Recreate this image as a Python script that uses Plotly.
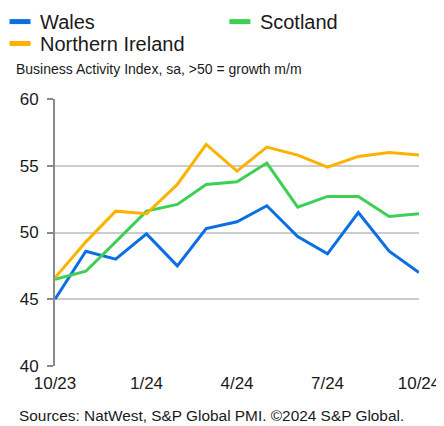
import plotly.graph_objects as go

months = ["2023-10-01", "2023-11-01", "2023-12-01", "2024-01-01", "2024-02-01",
          "2024-03-01", "2024-04-01", "2024-05-01", "2024-06-01", "2024-07-01",
          "2024-08-01", "2024-09-01", "2024-10-01"]
wales = [45.0, 48.6, 48.0, 49.9, 47.5, 50.3, 50.8, 52.0, 49.7, 48.4, 51.5, 48.6, 47.0]
scotland = [46.5, 47.1, 49.3, 51.6, 52.1, 53.6, 53.8, 55.2, 51.9, 52.7, 52.7, 51.2, 51.4]
n_ireland = [46.6, 49.3, 51.6, 51.4, 53.6, 56.6, 54.6, 56.4, 55.8, 54.9, 55.7, 56.0, 55.8]

tick_vals = ["2023-10-01", "2024-01-01", "2024-04-01", "2024-07-01", "2024-10-01"]
tick_text = ["10/23", "1/24", "4/24", "7/24", "10/24"]
y_ticks = [40, 45, 50, 55, 60]

series = [("Wales", wales, "#0b6fe3", "legend"),
          ("Scotland", scotland, "#3ecf55", "legend2"),
          ("Northern Ireland", n_ireland, "#fdb100", "legend3")]

fig = go.Figure()
for name, vals, col, leg in series:
    fig.add_trace(go.Scatter(x=months, y=vals, mode="lines", name=name,
                             line=dict(color=col, width=3), showlegend=False))
# legend entries (short thick bars)
for name, vals, col, leg in series:
    fig.add_trace(go.Scatter(x=[None], y=[None], mode="markers", name=name,
                             legend=leg,
                             marker=dict(symbol="line-ew", size=15,
                                         line=dict(color=col, width=5))))

font = "Liberation Sans, Arial, sans-serif"
leg_style = dict(xref="paper", yref="paper", xanchor="left", yanchor="top",
                 itemwidth=30, font=dict(size=20), bgcolor="rgba(0,0,0,0)")

fig.update_layout(
    width=436, height=418,
    margin=dict(l=47, r=25, t=91, b=60, autoexpand=False),
    plot_bgcolor="white", paper_bgcolor="white",
    font=dict(family=font, color="#1a1a1a"),
    legend=dict(x=-0.151, y=1.363, **leg_style),
    legend2=dict(x=0.453, y=1.363, **leg_style),
    legend3=dict(x=-0.151, y=1.281, **leg_style),
    xaxis=dict(type="date", range=[months[0], months[-1]], tickvals=tick_vals,
               ticktext=tick_text, showgrid=False, showline=False, zeroline=False,
               ticks="", tickfont=dict(size=17), ticklabelstandoff=5),
    xaxis2=dict(type="date", overlaying="x", anchor="free", position=0.5,
                range=[months[0], months[-1]], dtick="M1", tick0=months[0],
                ticks="outside", ticklen=5, tickwidth=1.5, tickcolor="#8a8a8a",
                showline=True, linecolor="#9a9a9a", linewidth=2,
                showticklabels=False, showgrid=False, zeroline=False),
    yaxis=dict(range=[40, 60], tickvals=y_ticks, showgrid=True, gridcolor="#cccccc",
               gridwidth=1.5, showline=True, linecolor="#8a8a8a", linewidth=2,
               ticks="outside", ticklen=6, tickcolor="#8a8a8a", tickwidth=1.5,
               zeroline=False, tickfont=dict(size=17), ticklabelstandoff=5),
    annotations=[
        dict(text="Business Activity Index, sa, >50 = growth m/m", xref="paper",
             yref="paper", x=-0.113, y=1.112, xanchor="left", yanchor="middle",
             showarrow=False, font=dict(size=14)),
        dict(text="Sources: NatWest, S&P Global PMI. ©2024 S&P Global.", xref="paper",
             yref="paper", x=-0.104, y=-0.187, xanchor="left", yanchor="middle",
             showarrow=False, font=dict(size=15.4)),
    ],
)

fig.write_html("out.html")
